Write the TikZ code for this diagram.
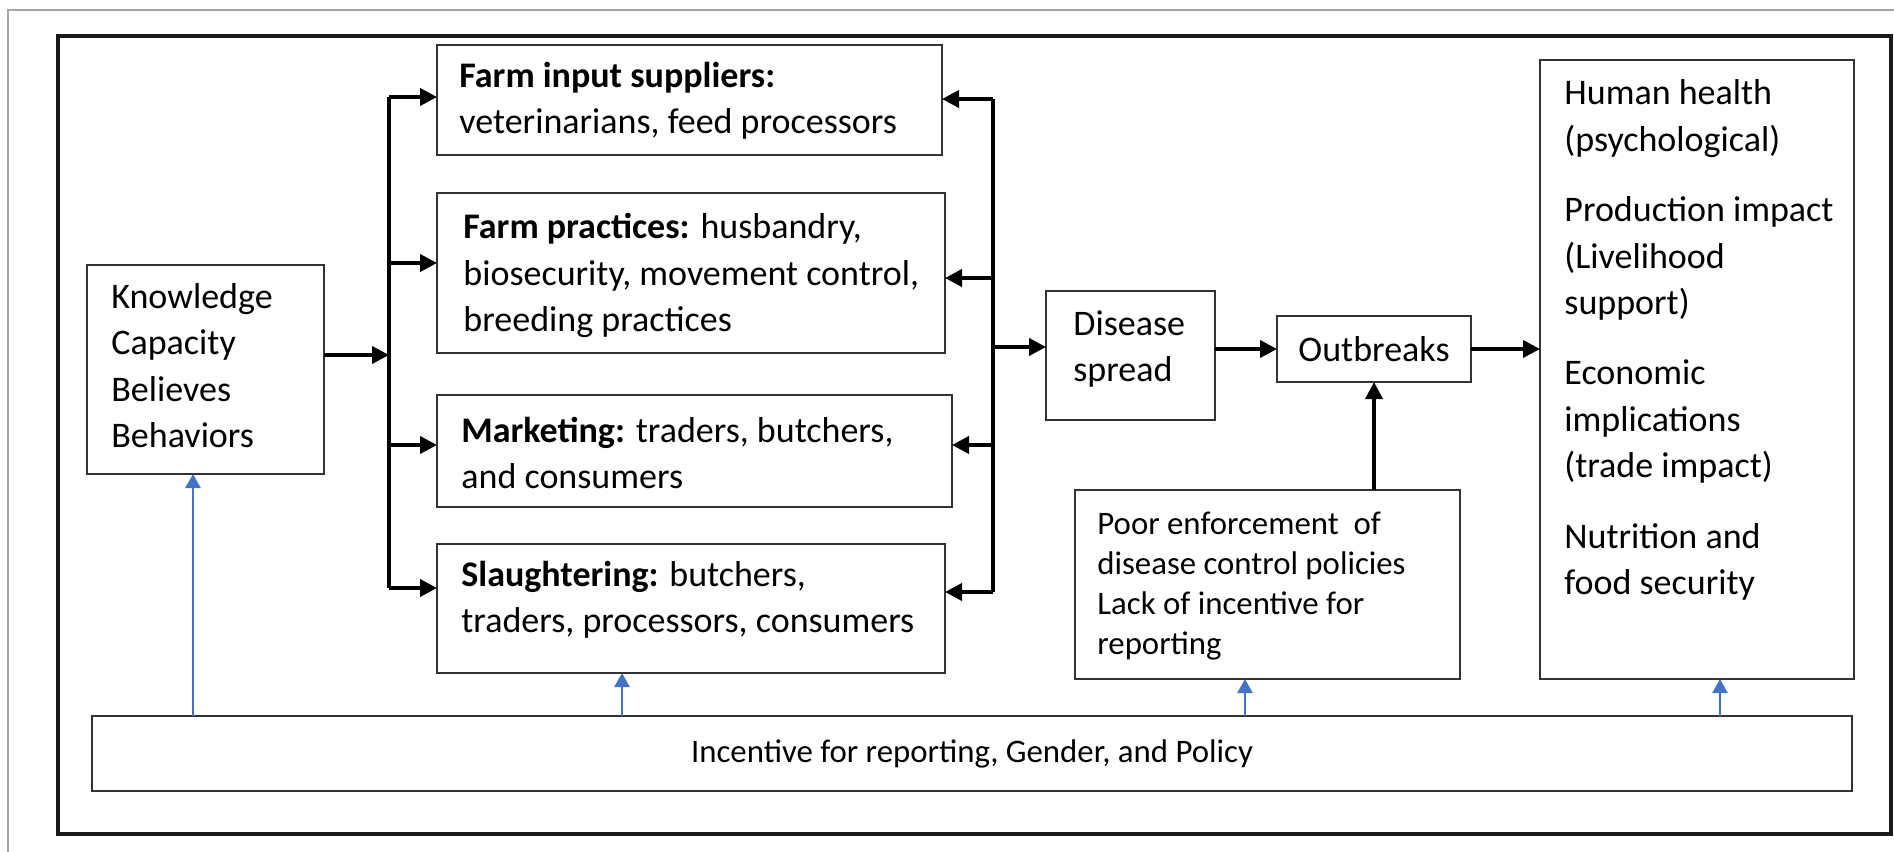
\documentclass[tikz,border=0pt]{standalone}
\usepackage{fontspec}
\setmainfont{Carlito}
\usetikzlibrary{arrows.meta}
\definecolor{officeblue}{HTML}{4472C4}
\tikzset{
  box/.style={draw=black!80, line width=1.2pt, rectangle, inner sep=0pt, outer sep=0pt, anchor=north west},
  txt/.style={inner sep=0pt, anchor=west, align=left, font=\fontsize{18}{23.2}\selectfont},
  smalltxt/.style={inner sep=0pt, anchor=west, align=left, font=\fontsize{16.4}{20}\selectfont},
  arr/.style={line width=1.9pt, -{Triangle[length=8.5pt,width=8.5pt]}},
  bus/.style={line width=1.9pt},
  barr/.style={officeblue, line width=1.3pt, -{Triangle[length=7pt,width=7.5pt]}},
  frame/.style={line width=1.6pt, black!90},
}
\begin{document}
\begin{tikzpicture}[x=0.5pt,y=-0.5pt]
\useasboundingbox (0,0) rectangle (1894,851);
% frames
\draw[gray!70, line width=0.8pt] (1900,10) -- (8,10) -- (8,860);
\draw[frame] (58,36) rectangle (1891,834);
% boxes
\node[box, minimum width=118.5pt, minimum height=104.5pt] (kcbb) at (87,265) {};
\node[box, minimum width=252.5pt, minimum height=55pt] (fi) at (437,45) {};
\node[box, minimum width=254pt, minimum height=80pt] (fp) at (437,193) {};
\node[box, minimum width=257.5pt, minimum height=56pt] (mk) at (437,395) {};
\node[box, minimum width=254pt, minimum height=64.5pt] (sl) at (437,544) {};
\node[box, minimum width=84.5pt, minimum height=64.5pt] (ds) at (1046,291) {};
\node[box, minimum width=97pt, minimum height=33pt] (ob) at (1277,316) {};
\node[box, minimum width=192.5pt, minimum height=94.5pt] (pe) at (1075,490) {};
\node[box, minimum width=157pt, minimum height=309.5pt] (rb) at (1540,60) {};
\node[box, minimum width=880pt, minimum height=37.5pt] (bb) at (92,716) {};
% texts
\node[txt] (kcbbt) at (111,365.5) {Knowledge\\Capacity\\Believes\\Behaviors};
\node[txt] (fit) at (459,100.5) {\textbf{Farm input suppliers:}\\veterinarians, feed processors};
\node[txt] (fpt) at (463,275.5) {\textbf{Farm practices:} husbandry,\\biosecurity, movement control,\\breeding practices};
\node[txt] (mkt) at (461,453) {\textbf{Marketing:} traders, butchers,\\and consumers};
\node[txt] (slt) at (461,599.5) {\textbf{Slaughtering:} butchers,\\traders, processors, consumers};
\node[txt] (dst) at (1073,349) {Disease\\spread};
\node[txt, anchor=center] (obt) at (ob.center) {Outbreaks};
\node[smalltxt] (pet) at (1097,586.5) {Poor enforcement\ \ of\\disease control policies\\Lack of incentive for\\reporting};
\node[txt] (rbt) at (1564,340) {Human health\\(psychological)\\[12pt]Production impact\\(Livelihood\\support)\\[12pt]Economic\\implications\\(trade impact)\\[12pt]Nutrition and\\food security};
\node[smalltxt, anchor=center] (bbt) at (bb.center) {Incentive for reporting, Gender, and Policy};
% left bus
\coordinate (l0) at (389,355);
\coordinate (l1) at (389,97);
\coordinate (l2) at (389,263);
\coordinate (l3) at (389,445);
\coordinate (l4) at (389,588);
\draw[arr] (kcbb.east |- l0) -- (l0);
\draw[bus] (l1) -- (l4);
\draw[arr] (l1) -- (l1 -| fi.west);
\draw[arr] (l2) -- (l2 -| fp.west);
\draw[arr] (l3) -- (l3 -| mk.west);
\draw[arr] (l4) -- (l4 -| sl.west);
% right bus
\coordinate (r0) at (993,347);
\coordinate (r1) at (993,99);
\coordinate (r2) at (993,278);
\coordinate (r3) at (993,445);
\coordinate (r4) at (993,592);
\draw[bus] (r1) -- (r4);
\draw[arr] (r1) -- (r1 -| fi.east);
\draw[arr] (r2) -- (r2 -| fp.east);
\draw[arr] (r3) -- (r3 -| mk.east);
\draw[arr] (r4) -- (r4 -| sl.east);
\draw[arr] (r0) -- (r0 -| ds.west);
% main chain
\draw[arr] (ds.east |- ob.west) -- (ob.west);
\draw[arr] (ob.east) -- (ob.east -| rb.west);
\draw[arr] (ob.south |- pe.north) -- (ob.south);
% blue arrows
\coordinate (b1) at (193,716);
\coordinate (b2) at (622,716);
\coordinate (b3) at (1245,716);
\coordinate (b4) at (1720,716);
\draw[barr] (b1) -- (b1 |- kcbb.south);
\draw[barr] (b2) -- (b2 |- sl.south);
\draw[barr] (b3) -- (b3 |- pe.south);
\draw[barr] (b4) -- (b4 |- rb.south);
\end{tikzpicture}
\end{document}
